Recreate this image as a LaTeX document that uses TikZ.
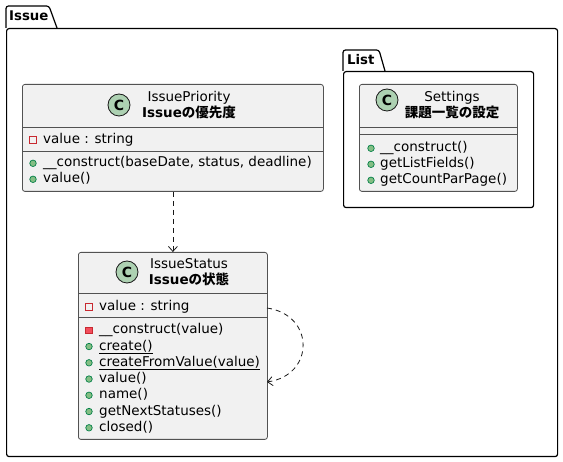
\documentclass[tikz,border=0pt]{standalone}
\usepackage{fontspec}
\setmainfont{DejaVu Sans}
\newfontfamily\cjk{Noto Sans CJK JP}
\usetikzlibrary{arrows.meta,positioning,calc}
\definecolor{classbg}{HTML}{F1F1F1}
\definecolor{classline}{HTML}{181818}
\definecolor{spotfill}{HTML}{ADD1B2}
\definecolor{privred}{HTML}{C82930}
\definecolor{privfill}{HTML}{F24D5C}
\definecolor{pubgreen}{HTML}{038048}
\definecolor{pubfill}{HTML}{84BE84}
\tikzset{
  every picture/.style={font=\fontsize{13.5}{16}\selectfont},
  pkgbody/.style={draw,line width=1.2pt,rounded corners=2.5pt,inner sep=0pt,anchor=north west},
  pkgtab/.style={draw,line width=1.2pt,rounded corners=2.5pt},
  pkgname/.style={font=\fontsize{13.3}{16}\selectfont\bfseries,inner sep=0pt,anchor=west},
  classbox/.style={draw=classline!75,fill=classbg,line width=0.8pt,rounded corners=2.5pt,inner sep=0pt,anchor=north west},
  divider/.style={draw=classline!75,line width=0.8pt},
  spot/.style={circle,draw=classline,fill=spotfill,line width=0.8pt,minimum size=22pt,inner sep=0pt,font=\fontsize{14}{16}\selectfont\bfseries},
  classtitle/.style={align=center,inner sep=0pt},
  member/.style={anchor=west,inner sep=0pt,text height=10pt,text depth=3pt},
  pub/.style={circle,draw=pubgreen,fill=pubfill,minimum size=6.5pt,inner sep=0pt,line width=0.7pt},
  privattr/.style={rectangle,draw=privred,minimum size=6.5pt,inner sep=0pt,line width=0.8pt},
  privop/.style={rectangle,draw=privred,fill=privfill,minimum size=6.5pt,inner sep=0pt,line width=0.8pt},
  dep/.style={draw=classline,line width=0.8pt,dash pattern=on 5pt off 4pt,-{Straight Barb[length=5pt,width=9pt]}},
}
\begin{document}
\begin{tikzpicture}[x=1pt,y=-1pt]
  \useasboundingbox (0,0) rectangle (563,462);
  % packages
  \node[pkgbody,minimum width=551pt,minimum height=428pt] (issuepkg) at (6,28) {};
  \draw[pkgtab] (issuepkg.north west) -- ++(0,-22) -- ++(43,0) -- ($(issuepkg.north west)+(51pt,0)$);
  \node[pkgname] (issuename) at (9,16) {Issue};
  \node[pkgbody,minimum width=190pt,minimum height=136pt] (listpkg) at (343,71) {};
  \draw[pkgtab] (listpkg.north west) -- ++(0,-21) -- ++(36,0) -- ($(listpkg.north west)+(42pt,0)$);
  \node[pkgname] (listname) at (347,60) {List};

  % IssuePriority
  \node[classbox,minimum width=301pt,minimum height=107pt] (prio) at (22,84) {};
  \draw[divider] (22,127) -- (323,127);
  \draw[divider] (22,151) -- (323,151);
  \node[spot] (prioC) at (119,105) {C};
  \node[classtitle] (prioname) at (189,105) {IssuePriority\\\textbf{Issue{\cjk の優先度}}};
  \node[privattr] (prioA0) at (33,140) {};
  \node[member] (prioa0) at (43,140) {value : string};
  \foreach \i/\txt in {0/{\_\_construct(baseDate, status, deadline)},1/{value()}}{
    \node[pub] (prioI\i) at (33,{163.3+16*\i}) {};
    \node[member] (priom\i) at (43,{163.3+16*\i}) {\txt};
  }

  % Settings
  \node[classbox,minimum width=158pt,minimum height=107pt] (settings) at (359,84) {};
  \draw[divider] (359,127) -- (517,127);
  \draw[divider] (359,134) -- (517,134);
  \node[spot] (settingsC) at (387,100) {C};
  \node[classtitle] (settingsname) at (452,105) {Settings\\\textbf{\cjk 課題一覧の設定}};
  \foreach \i/\txt in {0/{\_\_construct()},1/{getListFields()},2/{getCountParPage()}}{
    \node[pub] (setI\i) at (371,{148.3+16*\i}) {};
    \node[member] (setm\i) at (380,{148.3+16*\i}) {\txt};
  }

  % IssueStatus
  \node[classbox,minimum width=189pt,minimum height=187pt] (status) at (78,252) {};
  \draw[divider] (78,293) -- (267,293);
  \draw[divider] (78,317) -- (267,317);
  \node[spot] (statusC) at (127,272) {C};
  \node[classtitle] (statusname) at (189,272) {IssueStatus\\\textbf{Issue{\cjk の状態}}};
  \node[privattr] (statusA0) at (89,307) {};
  \node[member] (statusa0) at (99,307) {value : string};
  \foreach \i/\ic/\txt in {0/privop/{\_\_construct(value)},1/pub/{\underline{create()}},
      2/pub/{\underline{createFromValue(value)}},3/pub/{value()},4/pub/{name()},
      5/pub/{getNextStatuses()},6/pub/{closed()}}{
    \node[\ic] (statusI\i) at (89,{330.3+16.25*\i}) {};
    \node[member] (statusm\i) at (99,{330.3+16.25*\i}) {\txt};
  }

  % dependencies
  \draw[dep] (prio.south) -- (status.north);
  \coordinate (loopout) at (267,308);
  \coordinate (loopin) at (267,382);
  \draw[dep] (loopout) .. controls (315,315) and (315,375) .. (loopin);
\end{tikzpicture}
\end{document}
